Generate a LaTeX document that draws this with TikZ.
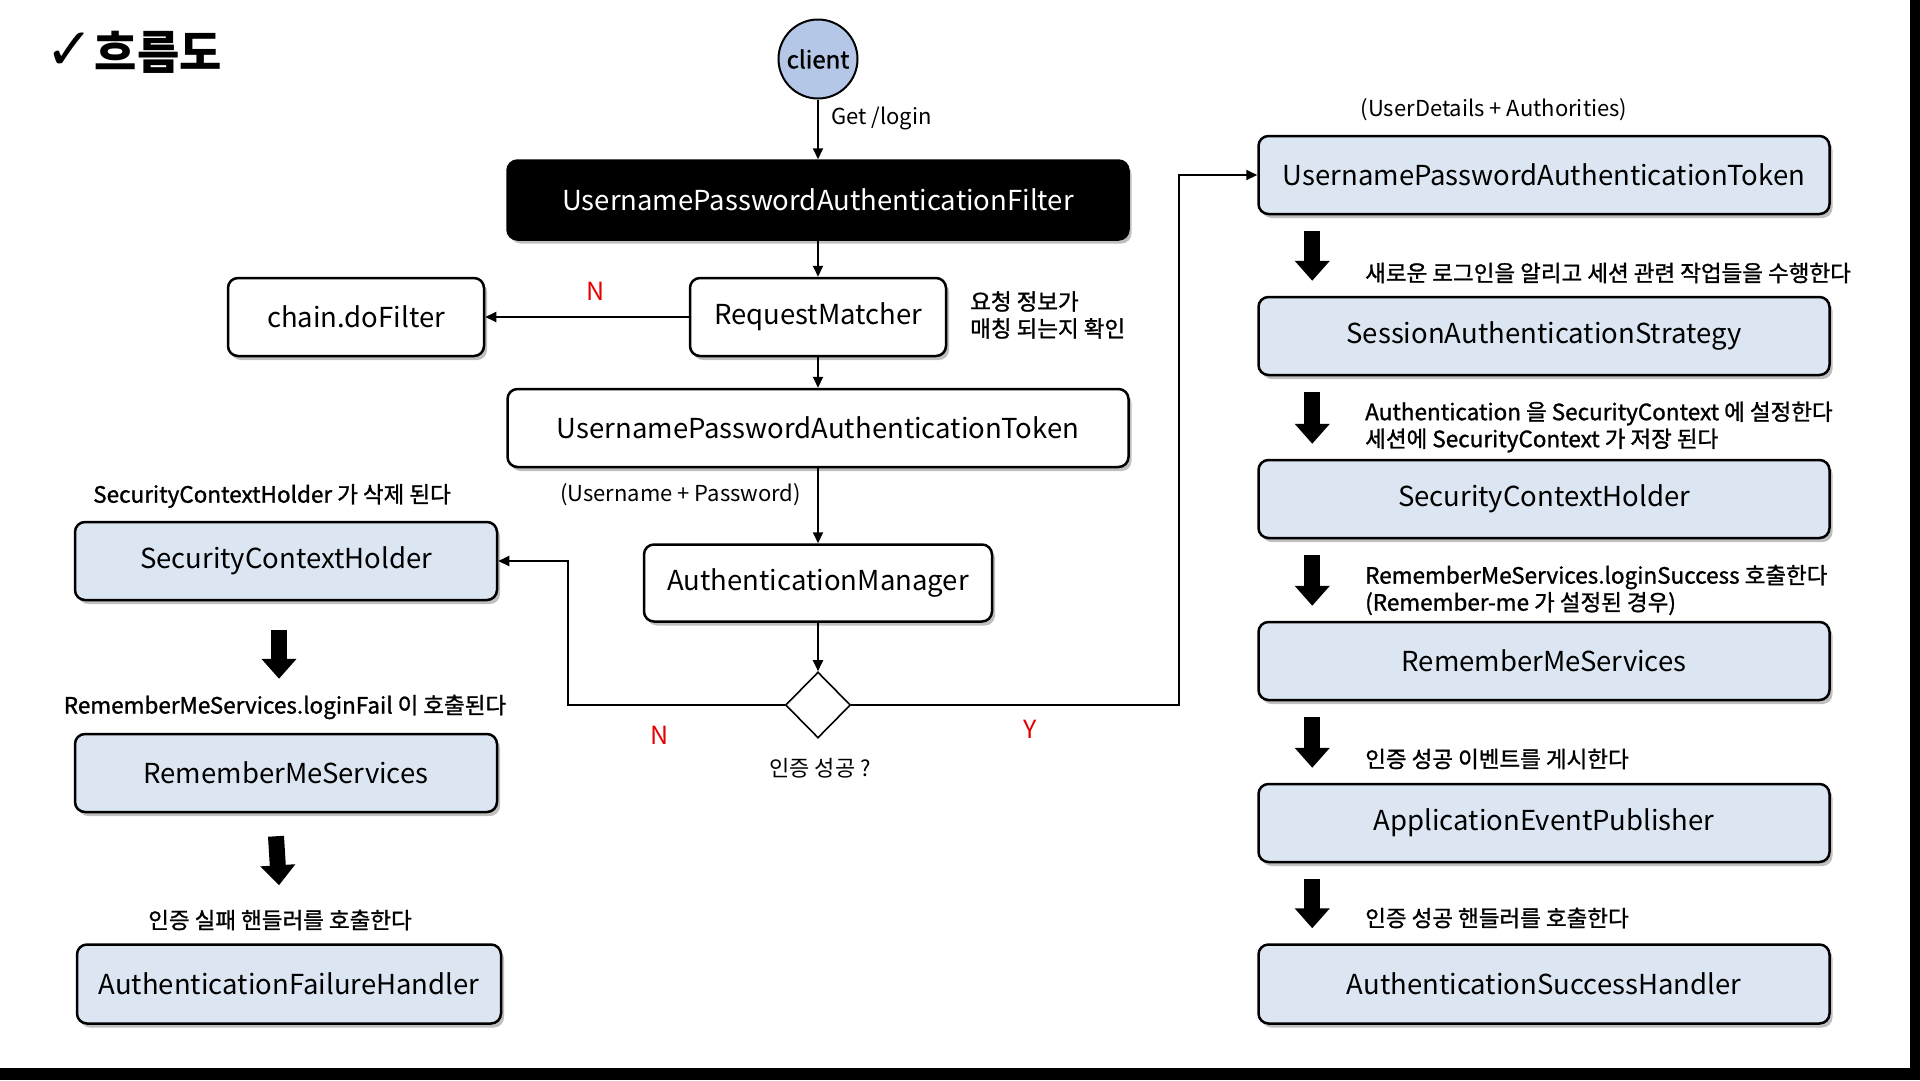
\documentclass[tikz,border=0pt]{standalone}
\usepackage{fontspec}
\setmainfont{Noto Sans CJK KR}
\newfontfamily\notefamily{Noto Sans CJK KR}[FakeBold=1.2]
\newfontfamily\checkfont{DejaVu Sans}
\usetikzlibrary{shapes.geometric,arrows.meta,shadows}

\definecolor{boxblue}{RGB}{220,230,242}
\definecolor{clientblue}{RGB}{180,199,231}
\definecolor{markred}{RGB}{230,0,0}

\newcommand\boxfont{\fontsize{27.5}{32}\selectfont}
\newcommand\lblfont{\notefamily\fontsize{22.5}{27}\selectfont}

\tikzset{
  flowbox/.style={draw=black, line width=2.5pt, rounded corners=10pt, minimum height=78pt,
    font=\boxfont, inner sep=0pt, fill=white,
    drop shadow={shadow xshift=3pt, shadow yshift=-4pt, fill=black, opacity=0.25}},
  bluebox/.style={flowbox, fill=boxblue},
  conn/.style={line width=2pt, -{Triangle[length=11pt,width=10pt]}},
  bigarrow/.style={line width=16pt, -{Triangle[length=20pt,width=34pt]}},
  lbl/.style={font=\lblfont, inner sep=0pt},
  plain/.style={font=\fontsize{22}{27}\selectfont, inner sep=0pt},
  yn/.style={font=\fontsize{25}{30}\selectfont, text=markred, inner sep=0pt},
}

\begin{document}
\begin{tikzpicture}[x=1pt, y=-1pt]
  % Page and frame bars
  \fill[white] (0,0) rectangle (1920,1080);
  \fill[black] (0,1068) rectangle (1920,1080);
  \fill[black] (1910,0) rectangle (1920,1080);
  \useasboundingbox (0,0) rectangle (1920,1080);

  % Title
  \node[anchor=west, inner sep=0pt] (title) at (45,52)
    {{\checkfont\bfseries\fontsize{58}{60}\selectfont ✓}\hspace{1pt}{\fontsize{46}{52}\selectfont\bfseries 흐름도}};

  % Middle column
  \node[circle, draw=black, line width=2pt, fill=clientblue, minimum size=79pt, inner sep=0pt,
    font=\notefamily\fontsize{24}{28}\selectfont] (client) at (818,59) {client};
  \node[flowbox, fill=black, text=white, minimum width=621pt, minimum height=79pt] (filter) at (818,200) {UsernamePasswordAuthenticationFilter};
  \node[flowbox, minimum width=256pt] (match) at (818,317) {RequestMatcher};
  \node[flowbox, minimum width=256pt] (chain) at (356,317) {chain.doFilter};
  \node[flowbox, minimum width=621pt] (token) at (818,428) {UsernamePasswordAuthenticationToken};
  \node[flowbox, minimum width=348pt, minimum height=77pt] (manager) at (818,583) {AuthenticationManager};
  \node[draw, diamond, line width=1.6pt, minimum width=65pt, minimum height=66pt, inner sep=0pt] (success) at (818,705) {};

  % Failure column
  \node[bluebox, minimum width=422pt] (failholder) at (286,561) {SecurityContextHolder};
  \node[bluebox, minimum width=422pt] (failremember) at (286,773) {RememberMeServices};
  \node[bluebox, minimum width=424pt, minimum height=79pt] (failhandler) at (289,984) {AuthenticationFailureHandler};

  % Success column
  \node[bluebox, minimum width=571pt] (authtoken) at (1544,175) {UsernamePasswordAuthenticationToken};
  \node[bluebox, minimum width=571pt] (session) at (1544,336) {SessionAuthenticationStrategy};
  \node[bluebox, minimum width=571pt] (holder) at (1544,499) {SecurityContextHolder};
  \node[bluebox, minimum width=571pt] (remember) at (1544,661) {RememberMeServices};
  \node[bluebox, minimum width=571pt] (publisher) at (1544,823) {ApplicationEventPublisher};
  \node[bluebox, minimum width=571pt, minimum height=79pt] (handler) at (1544,984) {AuthenticationSuccessHandler};

  % Connectors
  \draw[conn] (client) -- (filter);
  \draw[conn] (filter) -- (match);
  \draw[conn] (match) -- (chain);
  \draw[conn] (match) -- (token);
  \draw[conn] (token) -- (manager);
  \draw[conn] (manager) -- (success);
  \coordinate (failturn) at (568,705);
  \coordinate (passturn) at (1179,705);
  \draw[conn] (success.west) -- (failturn) |- (failholder.east);
  \draw[conn] (success.east) -- (passturn) |- (authtoken.west);

  % Step arrows
  \draw[bigarrow] ([xshift=-7pt,yshift=-29pt]failholder.south) -- ([xshift=-7pt,yshift=54pt]failremember.north);
  \draw[bigarrow] ([xshift=-10pt,yshift=-23pt]failremember.south) -- ([xshift=-10pt,yshift=58pt]failhandler.north);
  \foreach \a/\b in {authtoken/session, session/holder, holder/remember, remember/publisher, publisher/handler}
    \draw[bigarrow] ([xshift=55pt,yshift=-16pt]\a.south west) -- ([xshift=55pt,yshift=15pt]\b.north west);

  % Labels
  \node[plain, anchor=west] (getlogin) at (831,118) {Get /login};
  \node[lbl, anchor=west, align=left] (matchnote) at (970,315) {요청 정보가\\매칭 되는지 확인};
  \node[plain, anchor=west] (credential) at (560,495) {(Username + Password)};
  \node[plain] (question) at (820,768) {인증 성공 ?};
  \node[plain] (detail) at (1494,110) {(UserDetails + Authorities)};
  \node[yn] (chainno) at (596,291) {N};
  \node[yn] (failno) at (660,735) {N};
  \node[yn] (passyes) at (1030,729) {Y};

  \node[lbl] (delnote) at (272,496) {SecurityContextHolder 가 삭제 된다};
  \node[lbl] (failnote) at (285,707) {RememberMeServices.loginFail 이 호출된다};
  \node[lbl] (failhandlernote) at (280,920) {인증 실패 핸들러를 호출한다};

  \node[lbl, anchor=west] (sessionnote) at (1365,273) {새로운 로그인을 알리고 세션 관련 작업들을 수행한다};
  \node[lbl, anchor=west, align=left] (contextnote) at (1365,427) {Authentication 을 SecurityContext 에 설정한다\\세션에 SecurityContext 가 저장 된다};
  \node[lbl, anchor=west, align=left] (remembernote) at (1365,590) {RememberMeServices.loginSuccess 호출한다\\(Remember-me 가 설정된 경우)};
  \node[lbl, anchor=west] (eventnote) at (1365,759) {인증 성공 이벤트를 게시한다};
  \node[lbl, anchor=west] (handlernote) at (1365,918) {인증 성공 핸들러를 호출한다};
\end{tikzpicture}
\end{document}
